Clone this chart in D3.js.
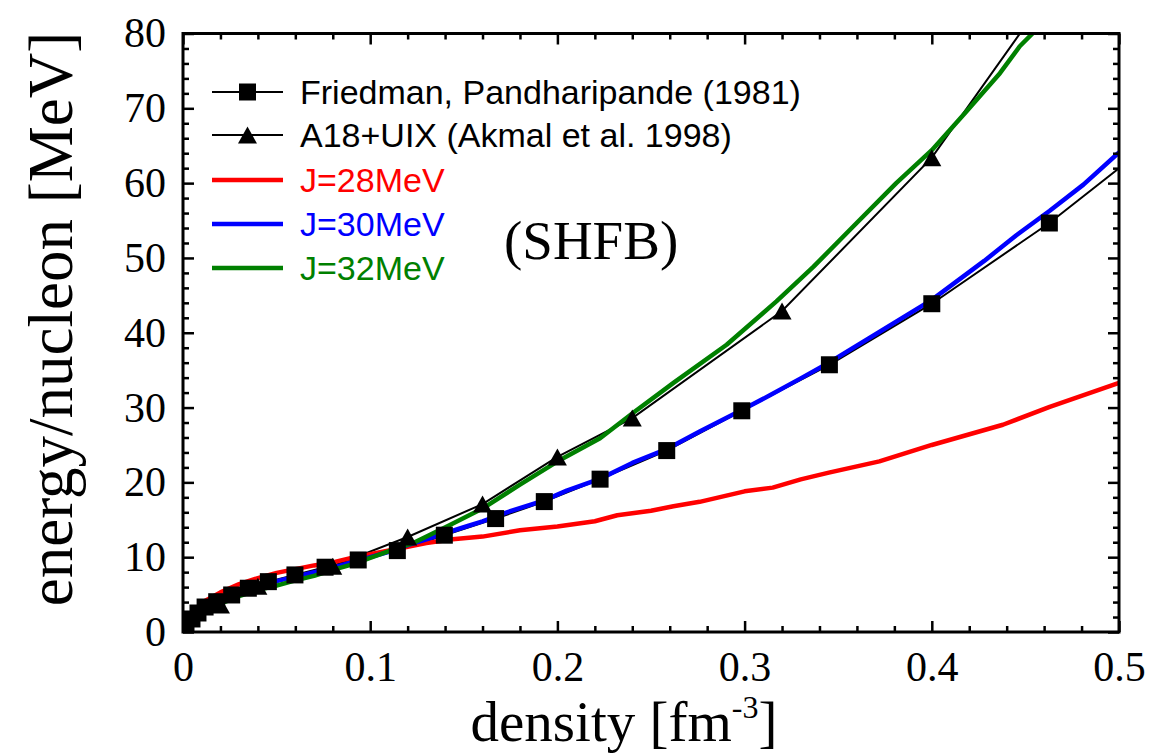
<!DOCTYPE html>
<html>
<head>
<meta charset="utf-8">
<script src="https://cdn.jsdelivr.net/npm/d3@7"></script>
<style>
  html, body { margin: 0; padding: 0; background: #fff; }
  svg { display: block; }
</style>
</head>
<body>
<svg id="chart" width="1158" height="754"></svg>
<script>
// Neutron matter equation of state: energy per nucleon vs. density

// Friedman & Pandharipande (1981), squares
const fpDensity = [0.0016, 0.0048, 0.008, 0.0118, 0.018, 0.026, 0.0349, 0.0456, 0.0598, 0.0759, 0.0936,
                   0.1145, 0.1396, 0.167, 0.193, 0.2228, 0.2584, 0.2985, 0.3453, 0.40, 0.4628, 0.50];
const fpEnergy  = [1.07, 1.74, 2.54, 3.34, 4.05, 4.95, 5.85, 6.73, 7.63, 8.66, 9.63,
                   10.88, 12.94, 15.16, 17.43, 20.43, 24.25, 29.57, 35.72, 43.88, 54.67, 62.0];

// A18+UIX (Akmal et al. 1998), triangles
const aprDensity = [0.02, 0.04, 0.08, 0.12, 0.16, 0.20, 0.24, 0.32, 0.40, 0.48];
const aprEnergy  = [3.6, 6.1, 8.8, 12.7, 17.1, 23.4, 28.6, 42.9, 63.4, 91.6];

// SHFB calculations for three symmetry energies
const j28Density = [0, 0.004, 0.01, 0.02, 0.03, 0.04, 0.05, 0.06, 0.07, 0.08, 0.09, 0.10, 0.11, 0.12, 0.13,
                    0.144, 0.16, 0.18, 0.20, 0.22, 0.232, 0.25, 0.262, 0.276, 0.30, 0.315, 0.33, 0.345,
                    0.372, 0.40, 0.438, 0.463, 0.50];
const j28Energy  = [0, 2.2, 3.9, 5.3, 6.4, 7.2, 7.9, 8.4, 8.9, 9.3, 9.9, 10.4, 10.9, 11.4, 11.9,
                    12.4, 12.75, 13.6, 14.1, 14.8, 15.6, 16.2, 16.8, 17.4, 18.8, 19.3, 20.4, 21.3,
                    22.8, 25.0, 27.7, 30.1, 33.3];

const j30Density = [0, 0.005, 0.01, 0.02, 0.03, 0.04, 0.05, 0.06, 0.07, 0.08, 0.09, 0.10, 0.11, 0.12, 0.13,
                    0.14, 0.15, 0.16, 0.173, 0.193, 0.205, 0.223, 0.24, 0.258, 0.276, 0.298, 0.314, 0.33,
                    0.345, 0.37, 0.40, 0.428, 0.445, 0.463, 0.481, 0.50];
const j30Energy  = [0, 2.0, 3.2, 4.4, 5.3, 6.1, 6.8, 7.4, 8.0, 8.6, 9.3, 10.0, 10.7, 11.6, 12.4,
                    13.2, 14.0, 14.8, 16.0, 17.6, 18.9, 20.5, 22.6, 24.4, 26.8, 29.6, 31.7, 33.9,
                    36.0, 39.8, 44.4, 49.6, 53.0, 56.3, 59.8, 64.1];

const j32Density = [0, 0.005, 0.01, 0.02, 0.03, 0.04, 0.05, 0.06, 0.07, 0.08, 0.09, 0.10, 0.11, 0.123,
                    0.141, 0.16, 0.18, 0.2014, 0.2228, 0.2405, 0.262, 0.2904, 0.317, 0.3367, 0.358,
                    0.381, 0.40, 0.4186, 0.4364, 0.447, 0.4542, 0.46];
const j32Energy  = [0, 1.5, 2.5, 3.8, 4.8, 5.6, 6.2, 6.9, 7.5, 8.3, 9.0, 9.9, 10.8, 11.9,
                    14.1, 16.5, 19.7, 23.0, 25.9, 29.3, 33.3, 38.4, 44.2, 48.8, 54.2,
                    60.0, 64.4, 69.6, 74.7, 78.3, 80.1, 81.5];

// Axis ticks
const xMajorTicks = [0, 0.1, 0.2, 0.3, 0.4, 0.5];
const xTickLabels = ["0", "0.1", "0.2", "0.3", "0.4", "0.5"];
const yMajorTicks = [0, 10, 20, 30, 40, 50, 60, 70, 80];
const yTickLabels = ["0", "10", "20", "30", "40", "50", "60", "70", "80"];

const legendLabels = ["Friedman, Pandharipande (1981)", "A18+UIX (Akmal et al. 1998)",
                      "J=28MeV", "J=30MeV", "J=32MeV"];

// ---------------------------------------------------------------------------
const svg = d3.select("#chart");
const plot = { left: 183, right: 1119, top: 33.5, bottom: 632 };

const x = d3.scaleLinear().domain([0, 0.5]).range([plot.left, plot.right]);
const y = d3.scaleLinear().domain([0, 80]).range([plot.bottom, plot.top]);

const zip = (xs, ys) => xs.map((d, i) => ({ d, e: ys[i] }));

svg.append("defs").append("clipPath").attr("id", "plotClip")
  .append("rect")
  .attr("x", plot.left).attr("y", plot.top)
  .attr("width", plot.right - plot.left).attr("height", plot.bottom - plot.top);

const line = d3.line().x(p => x(p.d)).y(p => y(p.e));

const dataG = svg.append("g").attr("clip-path", "url(#plotClip)");

const series = [
  { pts: zip(j28Density, j28Energy), color: "#ff0000", width: 4.5 },
  { pts: zip(j30Density, j30Energy), color: "#0000ff", width: 4.5 },
  { pts: zip(j32Density, j32Energy), color: "#008000", width: 4.5 },
];
const fp = zip(fpDensity, fpEnergy);
const apr = zip(aprDensity, aprEnergy);

// reference lines (thin black) first, SHFB curves over them
dataG.append("path").datum(fp).attr("d", line)
  .attr("fill", "none").attr("stroke", "#000").attr("stroke-width", 2);
dataG.append("path").datum(apr).attr("d", line)
  .attr("fill", "none").attr("stroke", "#000").attr("stroke-width", 2);

series.forEach(s => {
  dataG.append("path").datum(s.pts).attr("d", line)
    .attr("fill", "none").attr("stroke", s.color)
    .attr("stroke-width", s.width).attr("stroke-linejoin", "round");
});

// marker shapes
const SQ = 17;
function squarePath(cx, cy) {
  const h = SQ / 2;
  return `M${cx - h},${cy - h}h${SQ}v${SQ}h${-SQ}Z`;
}
const TW = 19, TH = 17;
function trianglePath(cx, cy) {
  return `M${cx},${cy - TH / 2}L${cx + TW / 2},${cy + TH / 2}L${cx - TW / 2},${cy + TH / 2}Z`;
}

const inside = p => p.d < 0.5 && p.e < 80;

dataG.selectAll(".tri").data(apr.filter(inside)).join("path")
  .attr("class", "tri").attr("d", p => trianglePath(x(p.d), y(p.e))).attr("fill", "#000");
dataG.selectAll(".sq").data(fp.filter(inside)).join("path")
  .attr("class", "sq").attr("d", p => squarePath(x(p.d), y(p.e))).attr("fill", "#000");

// ---------------------------------------------------------------------------
// Axes: ticks point inward on all four sides
const xMinor = d3.range(0, 0.5001, 0.02).filter(v => !xMajorTicks.some(m => Math.abs(m - v) < 1e-9));
const yMinor = d3.range(0, 80.001, 2).filter(v => v % 10 !== 0);

const axisStyle = g => {
  g.select(".domain").remove();
  g.selectAll(".tick line").attr("stroke", "#000").attr("stroke-width", 2.5);
};

const MAJ = 11, MIN = 6;
const serif = "Liberation Serif, Times New Roman, serif";

// bottom
svg.append("g").attr("transform", `translate(0,${plot.bottom})`)
  .call(d3.axisBottom(x).tickValues(xMajorTicks).tickSize(-MAJ).tickPadding(16)
    .tickFormat((d, i) => xTickLabels[i]))
  .call(axisStyle)
  .call(g => g.selectAll("text").attr("font-family", serif)
    .attr("font-size", 42).attr("fill", "#000").attr("dy", "0.78em"));
svg.append("g").attr("transform", `translate(0,${plot.bottom})`)
  .call(d3.axisBottom(x).tickValues(xMinor).tickSize(-MIN).tickFormat(""))
  .call(axisStyle);
// top
svg.append("g").attr("transform", `translate(0,${plot.top})`)
  .call(d3.axisTop(x).tickValues(xMajorTicks).tickSize(-MAJ).tickFormat(""))
  .call(axisStyle);
svg.append("g").attr("transform", `translate(0,${plot.top})`)
  .call(d3.axisTop(x).tickValues(xMinor).tickSize(-MIN).tickFormat(""))
  .call(axisStyle);
// left
svg.append("g").attr("transform", `translate(${plot.left},0)`)
  .call(d3.axisLeft(y).tickValues(yMajorTicks).tickSize(-MAJ).tickPadding(17)
    .tickFormat((d, i) => yTickLabels[i]))
  .call(axisStyle)
  .call(g => g.selectAll("text").attr("font-family", serif)
    .attr("font-size", 42).attr("fill", "#000"))
  // keep the topmost label inside the canvas
  .call(g => g.selectAll(".tick").filter(d => y(d) < 22)
    .select("text").attr("y", d => 20 - y(d)));
svg.append("g").attr("transform", `translate(${plot.left},0)`)
  .call(d3.axisLeft(y).tickValues(yMinor).tickSize(-MIN).tickFormat(""))
  .call(axisStyle);
// right
svg.append("g").attr("transform", `translate(${plot.right},0)`)
  .call(d3.axisRight(y).tickValues(yMajorTicks).tickSize(-MAJ).tickFormat(""))
  .call(axisStyle);
svg.append("g").attr("transform", `translate(${plot.right},0)`)
  .call(d3.axisRight(y).tickValues(yMinor).tickSize(-MIN).tickFormat(""))
  .call(axisStyle);

// frame
svg.append("rect")
  .attr("x", plot.left).attr("y", plot.top)
  .attr("width", plot.right - plot.left).attr("height", plot.bottom - plot.top)
  .attr("fill", "none").attr("stroke", "#000").attr("stroke-width", 3);

// axis titles
const xTitle = svg.append("text")
  .attr("x", 624).attr("y", 741)
  .attr("text-anchor", "middle")
  .attr("font-family", serif)
  .attr("font-size", 57).attr("fill", "#000");
xTitle.append("tspan").text("density [fm");
xTitle.append("tspan").attr("dy", -23).attr("font-size", 32).text("-3");
xTitle.append("tspan").attr("dy", 23).text("]");

svg.append("text")
  .attr("transform", `translate(72,319) rotate(-90)`)
  .attr("text-anchor", "middle")
  .attr("font-family", serif)
  .attr("font-size", 63).attr("fill", "#000")
  .text("energy/nucleon [MeV]");

// ---------------------------------------------------------------------------
// Legend
const legend = svg.append("g");
const legRows = [92, 135, 180, 224, 268];
const legX0 = 212, legX1 = 283, legText = 300;
const legStyles = [
  { color: "#000", width: 2, marker: "sq", text: "#000" },
  { color: "#000", width: 2, marker: "tri", text: "#000" },
  { color: "#ff0000", width: 4.5, marker: null, text: "#ff0000" },
  { color: "#0000ff", width: 4.5, marker: null, text: "#0000ff" },
  { color: "#008000", width: 4.5, marker: null, text: "#008000" },
];
legStyles.forEach((s, i) => {
  const yy = legRows[i];
  legend.append("line").attr("x1", legX0).attr("x2", legX1).attr("y1", yy).attr("y2", yy)
    .attr("stroke", s.color).attr("stroke-width", s.width);
  if (s.marker === "sq") legend.append("path").attr("d", squarePath((legX0 + legX1) / 2, yy)).attr("fill", "#000");
  if (s.marker === "tri") legend.append("path").attr("d", trianglePath((legX0 + legX1) / 2, yy)).attr("fill", "#000");
  legend.append("text").attr("x", legText).attr("y", yy).attr("dy", "0.36em")
    .attr("font-family", "Liberation Sans, Arial, sans-serif")
    .attr("font-size", 34).attr("fill", s.text)
    .text(legendLabels[i]);
});

svg.append("text")
  .attr("x", 504).attr("y", 240).attr("dy", "0.35em")
  .attr("font-family", serif)
  .attr("font-size", 55).attr("fill", "#000")
  .text("(SHFB)");
</script>
</body>
</html>
